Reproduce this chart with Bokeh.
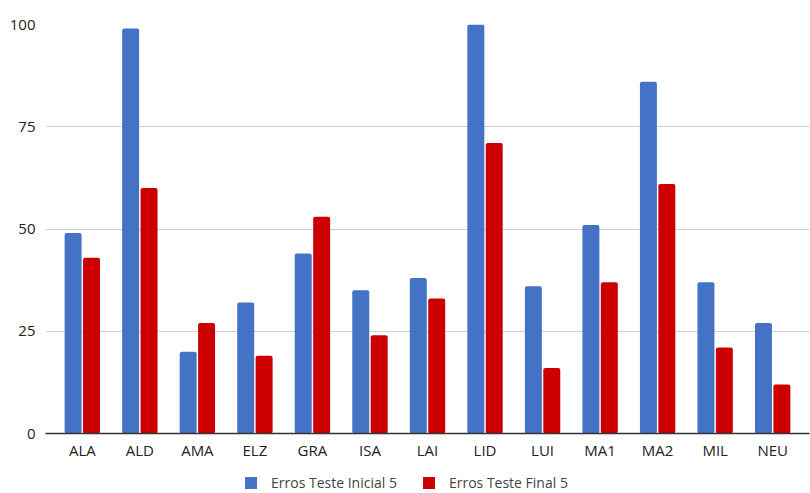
from bokeh.plotting import figure
from bokeh.layouts import column
from bokeh.models import ColumnDataSource, FactorRange, Range1d, Legend, LegendItem, FixedTicker
from bokeh.transform import dodge
from bokeh.embed import file_html
from bokeh.resources import INLINE

# Students and their error counts in the two tests
categories = ["ALA", "ALD", "AMA", "ELZ", "GRA", "ISA", "LAI", "LID", "LUI", "MA1", "MA2", "MIL", "NEU"]
erros_inicial = [49, 99, 20, 32, 44, 35, 38, 100, 36, 51, 86, 37, 27]
erros_final = [43, 60, 27, 19, 53, 24, 33, 71, 16, 37, 61, 21, 12]
series_labels = ["Erros Teste Inicial 5", "Erros Teste Final 5"]
y_ticks = [0, 25, 50, 75, 100]

BLUE = "#4472c4"
RED = "#cc0000"
FONT = "Open Sans"

source = ColumnDataSource(dict(cat=categories, inicial=erros_inicial, final=erros_final))

p = figure(
    x_range=FactorRange(*categories, range_padding=0.14, range_padding_units="absolute"),
    y_range=Range1d(0, 100),
    width=810, height=462,
    min_border_left=45, min_border_right=1, min_border_top=24, min_border_bottom=28,
    output_backend="svg", toolbar_location=None,
    outline_line_color=None,
)

p.vbar(x=dodge("cat", -0.16, range=p.x_range), top="inicial", width=0.295,
       source=source, fill_color=BLUE, line_color=None, border_radius=2)
p.vbar(x=dodge("cat", 0.16, range=p.x_range), top="final", width=0.295,
       source=source, fill_color=RED, line_color=None, border_radius=2)

p.xgrid.grid_line_color = None
p.ygrid.grid_line_color = "#d0d0d0"
p.ygrid.grid_line_width = 1
p.yaxis.ticker = FixedTicker(ticks=y_ticks)

p.yaxis.axis_line_color = None
p.yaxis.major_tick_line_color = None
p.yaxis.minor_tick_line_color = None
p.yaxis.major_tick_out = 0
p.yaxis.major_label_text_font = FONT
p.yaxis.major_label_text_font_size = "15px"
p.yaxis.major_label_text_color = "#222222"
p.yaxis.major_label_standoff = 10

p.xaxis.axis_line_color = "#333333"
p.xaxis.axis_line_width = 1.5
p.xaxis.major_tick_line_color = None
p.xaxis.minor_tick_line_color = None
p.xaxis.major_tick_out = 0
p.xaxis.major_label_text_font = FONT
p.xaxis.major_label_text_font_size = "15px"
p.xaxis.major_label_text_color = "#222222"
p.xaxis.major_label_standoff = 6

# Legend strip under the chart: a bare figure whose legend swatches
# come from placeholder bar renderers (NaN height, nothing drawn) styled like the series
lg = figure(
    width=810, height=31, x_axis_type=None, y_axis_type=None,
    min_border=0, outline_line_color=None,
    output_backend="svg", toolbar_location=None,
)
placeholder = ColumnDataSource(dict(x=[0.0], top=[float("nan")]))
k1 = lg.vbar(x="x", top="top", width=1, source=placeholder, fill_color=BLUE, line_color=None)
k2 = lg.vbar(x="x", top="top", width=1, source=placeholder, fill_color=RED, line_color=None)

legend = Legend(
    items=[LegendItem(label=series_labels[0], renderers=[k1]),
           LegendItem(label=series_labels[1], renderers=[k2])],
    orientation="horizontal", location=(198, 1),
    glyph_width=15, glyph_height=15, label_standoff=13, spacing=24,
    label_text_font=FONT, label_text_font_size="14px", label_text_color="#444444",
    label_height=15,
    border_line_color=None, background_fill_alpha=0,
    margin=0, padding=0,
)
lg.add_layout(legend, "center")

layout = column(p, lg, spacing=0)
open("out.html", "w").write(file_html(layout, INLINE))
